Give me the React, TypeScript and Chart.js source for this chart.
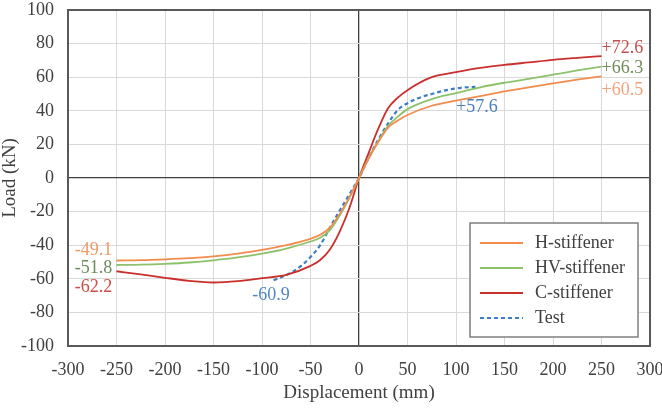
import React, { useEffect, useRef } from 'react';
import { Chart, registerables } from 'chart.js';

Chart.register(...registerables);

// ---- data ----
const modelDisp = [-250, -225, -200, -175, -150, -125, -100, -75, -50, -40, -30, -20, -10, 0, 10, 20, 30, 40, 50, 75, 100, 125, 150, 175, 200, 225, 250];
const hLoad = [-49.1, -48.9, -48.4, -47.7, -46.6, -45.0, -42.8, -40.0, -36.2, -33.8, -29.5, -21.5, -11.5, 0, 11.5, 21.5, 30.0, 34.2, 37.5, 43.0, 46.0, 48.8, 51.5, 54.0, 56.3, 58.5, 60.5];
const hvLoad = [-51.8, -51.6, -51.1, -50.3, -49.0, -47.3, -45.0, -42.0, -37.8, -35.6, -31.0, -22.5, -12.0, 0, 12.0, 22.0, 31.0, 36.5, 41.0, 47.0, 50.5, 54.0, 56.7, 59.0, 61.5, 64.0, 66.3];
const cLoad = [-55.5, -57.4, -59.4, -61.2, -62.2, -61.4, -59.6, -57.7, -52.3, -48.8, -42.5, -32.0, -18.0, 0, 15.0, 29.5, 41.5, 47.8, 52.3, 60.0, 63.0, 65.5, 67.3, 68.8, 70.3, 71.5, 72.6];
const testDisp = [-88, -80, -70, -60, -50, -40, -30, -20, -10, 0, 10, 20, 30, 40, 50, 60, 75, 90, 105, 120];
const testLoad = [-60.9, -59.0, -56.3, -52.5, -47.0, -40.0, -29.5, -19.5, -9.8, 0, 12.0, 23.0, 32.5, 40.5, 44.5, 47.3, 50.0, 52.3, 53.7, 54.2];

const seriesNames = ['H-stiffener', 'HV-stiffener', 'C-stiffener', 'Test'];
const seriesColors = ['#F28C4E', '#8DC26B', '#C9302C', '#3C7DC4'];

// peak-value annotations
const annText = ['+72.6', '+66.3', '+60.5', '+57.6', '-49.1', '-51.8', '-62.2', '-60.9'];
const annX = [250, 250, 250, 100, -293, -293, -293, -110];
const annY = [77.4, 65.5, 52.4, 42.3, -42.9, -53.6, -64.9, -69.6];
const annColor = ['#C0504D', '#718A5A', '#F4A27A', '#4A7EBB', '#F19A68', '#6E8B5C', '#CF4B45', '#4F86C6'];

const FONT = "'Liberation Serif', 'Times New Roman', serif";
const TXT = '#404040';

const toPts = (xs: number[], ys: number[]) => xs.map((x, i) => ({ x, y: ys[i] }));

const overlayPlugin = {
  id: 'overlay',
  beforeDatasetsDraw(chart: any) {
    const { ctx, chartArea: a } = chart;
    ctx.save();
    ctx.strokeStyle = '#595959';
    ctx.lineWidth = 2;
    ctx.strokeRect(a.left, a.top, a.right - a.left, a.bottom - a.top);
    ctx.restore();
  },
  afterDatasetsDraw(chart: any) {
    const { ctx, chartArea: a, scales } = chart;
    ctx.save();
    ctx.font = `18px ${FONT}`;
    ctx.textAlign = 'left';
    ctx.textBaseline = 'middle';
    annText.forEach((t, i) => {
      ctx.fillStyle = annColor[i];
      ctx.fillText(t, scales.x.getPixelForValue(annX[i]), scales.y.getPixelForValue(annY[i]));
    });
    // legend box
    const bw = 168, bh = 114;
    const bx = a.right - 12 - bw;
    const by = a.bottom - 9 - bh;
    ctx.fillStyle = '#ffffff';
    ctx.fillRect(bx, by, bw, bh);
    ctx.strokeStyle = '#7F7F7F';
    ctx.lineWidth = 1.5;
    ctx.strokeRect(bx, by, bw, bh);
    seriesNames.forEach((n, i) => {
      const yy = by + 20 + i * 25;
      ctx.strokeStyle = seriesColors[i];
      ctx.lineWidth = 2;
      ctx.setLineDash(i === 3 ? [4, 3] : []);
      ctx.beginPath();
      ctx.moveTo(bx + 10, yy);
      ctx.lineTo(bx + 53, yy);
      ctx.stroke();
      ctx.setLineDash([]);
      ctx.fillStyle = TXT;
      ctx.fillText(n, bx + 65, yy);
    });
    ctx.restore();
  },
};

export default function App() {
  const ref = useRef<HTMLCanvasElement | null>(null);
  useEffect(() => {
    document.body.style.margin = '0';
    const canvas = ref.current!;
    const ds = [
      { data: toPts(modelDisp, hLoad) },
      { data: toPts(modelDisp, hvLoad) },
      { data: toPts(modelDisp, cLoad) },
      { data: toPts(testDisp, testLoad) },
    ].map((d, i) => ({
      label: seriesNames[i],
      data: d.data,
      borderColor: seriesColors[i],
      backgroundColor: seriesColors[i],
      borderWidth: i === 3 ? 2.2 : 1.8,
      borderDash: i === 3 ? [4, 3] : [],
      pointRadius: 0,
      tension: 0.4,
      cubicInterpolationMode: 'monotone' as const,
      fill: false,
    }));
    const gridColor = (c: any) => (c.tick && c.tick.value === 0 ? '#404040' : '#D9D9D9');
    const gridWidth = (c: any) => (c.tick && c.tick.value === 0 ? 1.3 : 1);
    const chart = new Chart(canvas, {
      type: 'line',
      data: { datasets: ds as any },
      plugins: [overlayPlugin],
      options: {
        responsive: false,
        animation: false,
        devicePixelRatio: 1,
        layout: { padding: { top: 10, right: 12, left: 0, bottom: 0 } },
        plugins: { legend: { display: false }, tooltip: { enabled: false } },
        scales: {
          x: {
            type: 'linear',
            min: -300,
            max: 300,
            afterFit: (s: any) => { s.height = 74; s.paddingLeft = 0; s.paddingRight = 0; },
            ticks: { stepSize: 50, autoSkip: false, maxRotation: 0, padding: 13, color: TXT, font: { family: FONT, size: 18 } },
            grid: { color: gridColor, lineWidth: gridWidth, drawTicks: false },
            border: { display: false },
            title: { display: true, text: 'Displacement (mm)', color: TXT, font: { family: FONT, size: 19 }, padding: { top: 0, bottom: 16 } },
          },
          y: {
            type: 'linear',
            min: -100,
            max: 100,
            afterFit: (s: any) => { s.width = 68; s.paddingTop = 0; s.paddingBottom = 0; },
            ticks: { stepSize: 20, autoSkip: false, padding: 14, color: TXT, font: { family: FONT, size: 18 } },
            grid: { color: gridColor, lineWidth: gridWidth, drawTicks: false },
            border: { display: false },
            title: { display: true, text: 'Load (kN)', color: TXT, font: { family: FONT, size: 19 }, padding: { top: -1, bottom: 0 } },
          },
        },
      } as any,
    });
    return () => chart.destroy();
  }, []);
  return (
    <div style={{ position: 'absolute', left: 0, top: 0, width: 662, height: 420 }}>
      <canvas ref={ref} width={662} height={420} style={{ width: 662, height: 420 }} />
    </div>
  );
}
